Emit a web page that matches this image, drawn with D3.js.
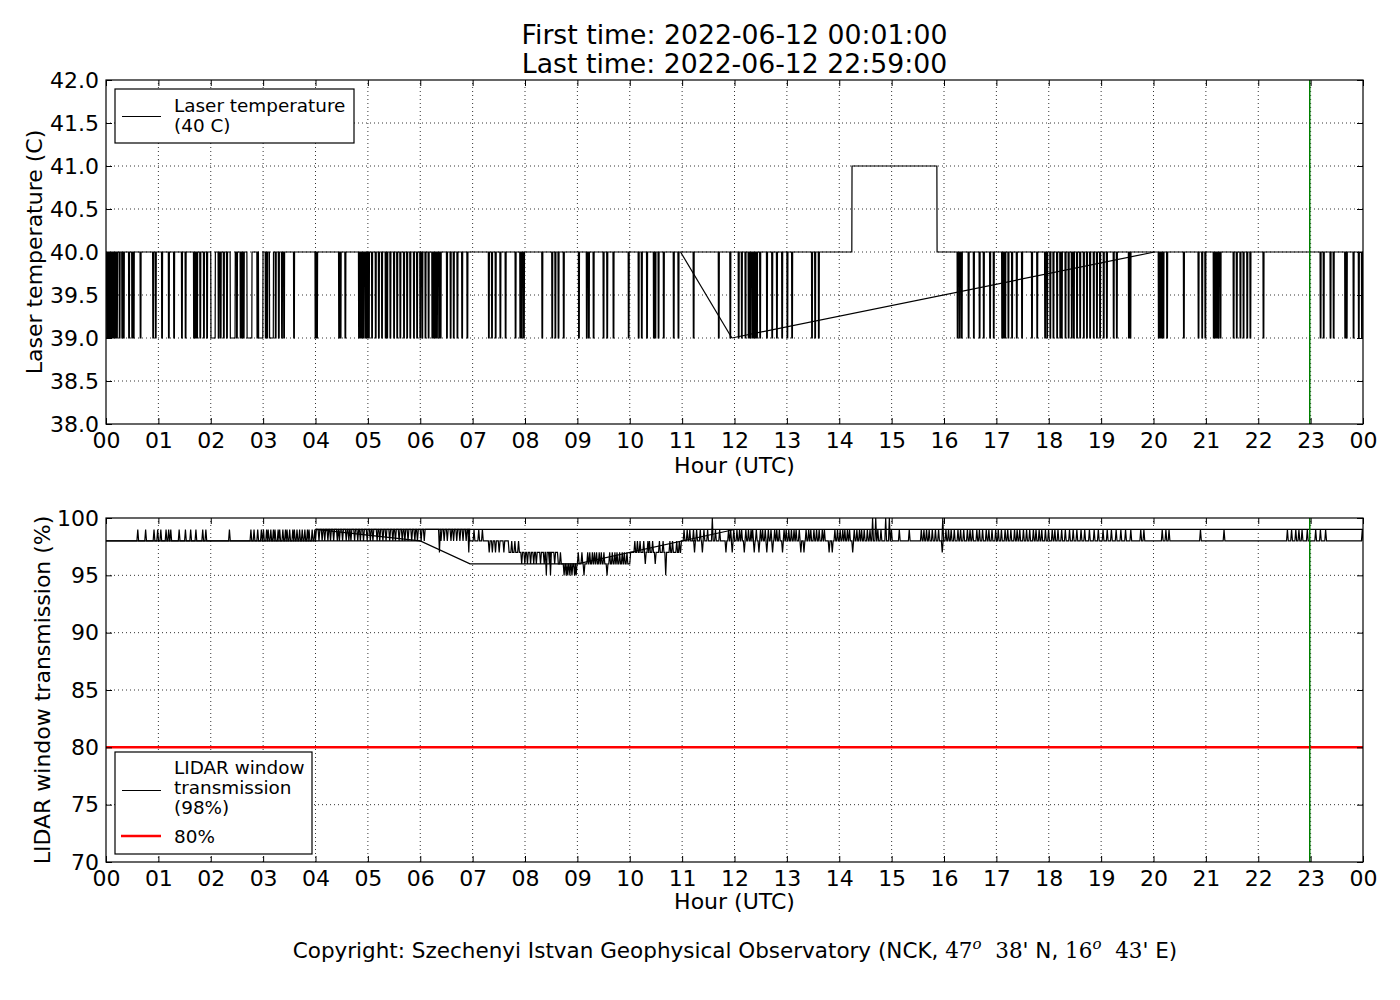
<!DOCTYPE html>
<html><head><meta charset="utf-8">
<script src="https://cdn.jsdelivr.net/npm/d3@7"></script>
<style>body{margin:0;background:#fff} svg{display:block} text{font-family:"DejaVu Sans",sans-serif;fill:#000}</style>
</head><body><svg id="c" width="1400" height="1000"></svg>
<script>
// ---------- data ----------
const hourTicks = [0,1,2,3,4,5,6,7,8,9,10,11,12,13,14,15,16,17,18,19,20,21,22,23,24];
const hourLabels = ["00","01","02","03","04","05","06","07","08","09","10","11","12","13","14","15","16","17","18","19","20","21","22","23","00"];
const tempTicks = [38.0,38.5,39.0,39.5,40.0,40.5,41.0,41.5,42.0];
const winTicks = [70,75,80,85,90,95,100];
const titleLines = ["First time: 2022-06-12 00:01:00","Last time: 2022-06-12 22:59:00"];
const lastTimeHour = 22 + 59/60;

// Laser temperature: base level 40 C, short drops to 39 C
const laserSteps = [[0,40]];
const laserDips = [0.01,0.045,0.08,0.11,0.14,0.17,0.20,0.25,0.30,0.33,0.43,0.49,0.52,0.65,0.89,0.94,1.06,1.19,1.29,1.44,1.51,1.67,1.70,1.73,1.79,1.86,1.92,2.14,2.18,2.24,2.30,2.49,2.56,2.59,2.62,2.88,3.04,3.07,3.23,3.29,3.35,3.39,3.58,3.99,4.02,4.44,4.47,4.56,4.82,4.85,4.88,4.91,4.95,4.98,5.01,5.07,5.14,5.20,5.26,5.33,5.36,5.42,5.49,5.55,5.61,5.68,5.74,5.80,5.87,5.93,5.99,6.03,6.09,6.15,6.22,6.25,6.28,6.31,6.35,6.38,6.50,6.57,6.63,6.70,6.79,6.89,7.30,7.36,7.43,
 7.52,7.62,7.81,7.90,7.93,7.97,8.32,8.51,8.57,8.63,8.73,9.02,9.17,9.21,9.30,9.49,9.56,9.68,9.97,10.16,10.22,10.32,10.45,10.48,10.54,10.64,10.83,10.92,11.21,11.69,11.91,12.07,12.13,12.20,12.26,12.29,12.33,12.36,12.39,12.42,12.48,12.61,12.71,12.80,12.90,13.00,13.09,13.47,13.53,13.60,
 16.25,16.29,16.33,16.46,16.56,16.67,16.75,16.87,16.94,17.10,17.13,17.16,17.22,17.29,17.38,17.48,17.67,17.77,17.92,17.96,18.02,18.08,18.15,18.21,18.24,18.31,18.37,18.43,18.47,18.53,18.59,18.66,18.72,18.78,18.85,18.91,18.97,19.04,19.10,19.23,19.29,19.52,19.55,20.09,20.12,20.15,20.18,20.25,20.57,20.85,20.92,20.98,21.14,21.17,21.20,21.23,21.27,21.52,21.58,21.65,21.71,21.78,21.84,22.09,23.18,23.24,23.37,23.43,23.65,23.68,23.81,23.91,23.97];
const laserLongDips = [[2.00,2.08],[2.37,2.46],[2.69,2.78],[2.91,2.99],[3.12,3.19]];
const laserHigh = [[14.24,15.86]];
const laserConnectors = [[[10.97,40],[11.95,39]],[[11.95,39],[20.02,40]]];

// LIDAR window transmission: base levels and short excursions
const winSteps = [[0,98],[4.0,99],[6.93,98],[7.68,97],[8.62,96],[10.0,97],[10.97,98]];
const winTo99 = [0.59,0.74,0.90,0.97,1.03,1.13,1.18,1.22,1.38,1.50,1.60,1.70,1.83,1.89,2.34,2.75,2.81,2.88,
 2.95,2.99,3.05,3.08,3.13,3.18,3.21,3.27,3.30,3.36,3.41,3.44,3.49,3.55,3.58,3.63,3.68,3.73,3.78,3.83,3.86,3.92,3.97,
 7.01,7.10,7.17,
 11.02,11.08,11.13,11.20,11.26,11.33,11.40,11.47,11.62,11.70,11.87,11.91,11.97,
 12.03,12.08,12.12,12.20,12.25,12.30,12.33,12.40,12.48,12.52,12.57,12.63,12.68,12.75,12.79,12.84,12.93,12.97,13.02,13.07,13.12,13.16,13.22,13.35,13.40,13.44,13.50,13.55,13.60,13.66,13.70,13.90,13.95,14.00,14.05,14.09,14.14,14.18,14.27,14.32,14.37,14.41,14.46,14.52,14.57,14.72,14.78,14.98,15.13,15.32,15.55,15.60,15.65,15.70,15.76,15.82,15.88,
 16.02,16.07,16.12,16.18,16.25,16.30,16.36,16.43,16.48,16.53,16.61,16.66,16.72,16.79,16.84,16.90,16.97,17.02,17.08,17.15,17.20,17.26,17.33,17.38,17.43,17.50,17.56,17.62,17.69,17.74,17.80,17.85,17.92,17.98,18.05,18.10,18.16,18.23,18.30,18.38,18.45,18.52,18.60,18.67,18.76,18.85,18.93,19.02,19.10,19.18,19.27,19.36,19.45,19.55,19.74,19.80,
 20.15,20.22,20.28,20.88,21.33,22.54,22.62,22.70,22.76,22.82,22.92,23.08,23.17,23.27,23.97];
const winTo98 = [4.05,4.11,4.16,4.22,4.27,4.33,4.40,4.44,4.50,4.57,4.62,4.66,4.73,4.79,4.84,4.90,4.97,5.03,5.08,5.16,5.21,5.27,5.33,5.40,5.46,5.51,5.58,5.64,5.69,5.75,5.82,5.88,5.93,6.00,6.06,6.38,6.44,6.50,6.57,6.62,6.68,6.74,6.80,6.86,
 7.73,7.79,7.86,10.08,10.13,10.18,10.25,10.33,10.36,10.42,10.55,10.62,10.75,10.80,10.88,10.93];
const winTo97 = [6.35,6.91,7.30,7.36,7.42,7.49,7.58,11.22,11.37,11.82,11.94,12.17,12.36,12.45,12.60,12.71,12.90,13.25,13.31,13.79,13.85,14.24,15.95,
 8.66,9.00,9.07,9.18,9.22,9.27,9.31,9.35,9.40,9.44,9.49,9.60,9.65,9.70,9.74,9.79,9.84,9.88,9.93];
const winTo96 = [7.92,7.98,8.03,8.09,8.15,8.20,8.28,8.35,8.45,8.55,10.28,10.47];
const winTo95 = [8.39,8.47,8.73,8.77,8.80,8.84,8.88,8.93,8.96,9.11,9.55,10.67];
const winTo100 = [11.56,14.62,14.68,14.87,14.94,15.96];
const winConnectors = [[[0,98],[6.0,98],[6.95,96],[9.0,96],[12.0,99]],[[4.0,99],[24,99]],[[4.0,99],[6.0,98]]];
const winThreshold = 80;

// ---------- layout ----------
const svg = d3.select("#c");
const L = 106, R = 1363;
const x = d3.scaleLinear().domain([0,24]).range([L,R]);
const yTop = d3.scaleLinear().domain([38,42]).range([424,80]);
const yBot = d3.scaleLinear().domain([70,100]).range([862,518]);
const SAMPLE = 1/60; // one-minute sampling

function buildSeries(steps, pulses, ramp) {
  const baseAt = t => { let b = steps[0][1]; for (const s of steps) if (s[0] <= t) b = s[1]; return b; };
  const ev = [];
  steps.slice(1).forEach(s => ev.push({t:s[0], kind:"step"}));
  pulses.forEach(p => ev.push({t:p.t, kind:"pulse", v:p.v, w:p.w}));
  ev.sort((a,b)=>a.t-b.t);
  let cur = steps[0][1];
  const pts = [[0,cur]];
  for (const e of ev) {
    if (e.kind === "step") { const nb = baseAt(e.t); pts.push([e.t,cur],[e.t+ramp,nb]); cur = nb; }
    else { pts.push([e.t,cur],[e.t+ramp,e.v],[e.t+ramp+e.w,e.v],[e.t+2*ramp+e.w,cur]); }
  }
  pts.push([24,cur]);
  return pts;
}
const laserPulses = [].concat(
  laserDips.map(t=>({t, v:39, w:0.012})),
  laserLongDips.map(d=>({t:d[0], v:39, w:d[1]-d[0]})),
  laserHigh.map(d=>({t:d[0], v:41, w:d[1]-d[0]}))
);
const winPulses = [].concat(
  winTo99.map(t=>({t,v:99,w:0})), winTo98.map(t=>({t,v:98,w:0})), winTo97.map(t=>({t,v:97,w:0})),
  winTo96.map(t=>({t,v:96,w:0})), winTo95.map(t=>({t,v:95,w:0})), winTo100.map(t=>({t,v:100,w:0}))
);

function panel(y, ticks, fmt, series, connectors, id) {
  const [y0,y1] = y.range();
  const g = svg.append("g");
  g.append("clipPath").attr("id",id).append("rect").attr("x",L).attr("y",y1).attr("width",R-L).attr("height",y0-y1);
  const grid = g.append("g").attr("stroke","#000").attr("stroke-width",0.8).attr("stroke-dasharray","1,3");
  hourTicks.slice(1,-1).forEach(h=>grid.append("line").attr("x1",x(h)).attr("x2",x(h)).attr("y1",y0).attr("y2",y1));
  ticks.slice(1,-1).forEach(v=>grid.append("line").attr("x1",L).attr("x2",R).attr("y1",y(v)).attr("y2",y(v)));
  const line = d3.line().x(d=>x(d[0])).y(d=>y(d[1]));
  const data = g.append("g").attr("clip-path",`url(#${id})`);
  data.append("path").attr("d",line(series)).attr("fill","none").attr("stroke","#000").attr("stroke-width",1.2).attr("stroke-linejoin","miter");
  connectors.forEach(c=>data.append("path").attr("d",line(c)).attr("fill","none").attr("stroke","#000").attr("stroke-width",1.2));
  g.append("g").attr("transform",`translate(0,${y0})`)
    .call(d3.axisBottom(x).tickValues(hourTicks).tickFormat((d,i)=>hourLabels[i]).tickSizeInner(-6).tickSizeOuter(0).tickPadding(8));
  g.append("g").attr("transform",`translate(0,${y1})`)
    .call(d3.axisTop(x).tickValues(hourTicks).tickFormat("").tickSizeInner(-6).tickSizeOuter(0));
  g.append("g").attr("transform",`translate(${L},0)`)
    .call(d3.axisLeft(y).tickValues(ticks).tickFormat(fmt).tickSizeInner(-6).tickSizeOuter(0).tickPadding(7));
  g.append("g").attr("transform",`translate(${R},0)`)
    .call(d3.axisRight(y).tickValues(ticks).tickFormat("").tickSizeInner(-6).tickSizeOuter(0));
  g.selectAll(".domain").remove();
  g.selectAll(".tick line").attr("stroke","#000");
  g.selectAll(".tick text").attr("font-size",22).attr("font-family","DejaVu Sans");
  return {g, data};
}

const panelA = panel(yTop, tempTicks, d3.format(".1f"), buildSeries(laserSteps, laserPulses, 0.004), laserConnectors, "clipA");
const panelB = panel(yBot, winTicks, d3.format("d"), buildSeries(winSteps, winPulses, SAMPLE), winConnectors, "clipB");

panelB.data.insert("line",":first-child").attr("x1",L).attr("x2",R).attr("y1",yBot(winThreshold)).attr("y2",yBot(winThreshold))
  .attr("stroke","#ff0000").attr("stroke-width",2.5);
[[panelA,yTop],[panelB,yBot]].forEach(([p,y])=>{
  p.data.append("line").attr("x1",x(lastTimeHour)).attr("x2",x(lastTimeHour)).attr("y1",y.range()[0]).attr("y2",y.range()[1])
    .attr("stroke","#008000").attr("stroke-width",1.5);
});
[yTop,yBot].forEach(y=>{
  svg.append("rect").attr("x",L).attr("y",y.range()[1]).attr("width",R-L).attr("height",y.range()[0]-y.range()[1])
    .attr("fill","none").attr("stroke","#000").attr("stroke-width",1.2);
});

svg.append("text").attr("x",734.5).attr("y",44).attr("text-anchor","middle").attr("font-size",26.7).text(titleLines[0]);
svg.append("text").attr("x",734.5).attr("y",73).attr("text-anchor","middle").attr("font-size",26.7).text(titleLines[1]);
svg.append("text").attr("x",734.5).attr("y",473).attr("text-anchor","middle").attr("font-size",22).text("Hour (UTC)");
svg.append("text").attr("x",734.5).attr("y",909).attr("text-anchor","middle").attr("font-size",22).text("Hour (UTC)");
svg.append("text").attr("transform","translate(42,252) rotate(-90)").attr("text-anchor","middle").attr("font-size",22).text("Laser temperature (C)");
svg.append("text").attr("transform","translate(50,690) rotate(-90)").attr("text-anchor","middle").attr("font-size",22).text("LIDAR window transmission (%)");

const lg1 = svg.append("g");
lg1.append("rect").attr("x",115).attr("y",89).attr("width",239).attr("height",54).attr("fill","#fff").attr("stroke","#000").attr("stroke-width",1.2);
lg1.append("line").attr("x1",122).attr("x2",161).attr("y1",116.5).attr("y2",116.5).attr("stroke","#000").attr("stroke-width",1.2);
lg1.append("text").attr("x",174).attr("y",112).attr("font-size",18.4).text("Laser temperature");
lg1.append("text").attr("x",174).attr("y",132).attr("font-size",18.4).text("(40 C)");

const lg2 = svg.append("g");
lg2.append("rect").attr("x",115).attr("y",752).attr("width",197).attr("height",102).attr("fill","#fff").attr("stroke","#000").attr("stroke-width",1.2);
lg2.append("line").attr("x1",122).attr("x2",161).attr("y1",790.5).attr("y2",790.5).attr("stroke","#000").attr("stroke-width",1.2);
lg2.append("text").attr("x",174).attr("y",774).attr("font-size",18.4).text("LIDAR window");
lg2.append("text").attr("x",174).attr("y",794).attr("font-size",18.4).text("transmission");
lg2.append("text").attr("x",174).attr("y",814).attr("font-size",18.4).text("(98%)");
lg2.append("line").attr("x1",121).attr("x2",161).attr("y1",836).attr("y2",836).attr("stroke","#ff0000").attr("stroke-width",2.5);
lg2.append("text").attr("x",174).attr("y",843).attr("font-size",18.4).text("80%");

const cp = svg.append("text").attr("x",735).attr("y",958).attr("text-anchor","middle").attr("font-size",21.5);
cp.append("tspan").text("Copyright: Szechenyi Istvan Geophysical Observatory (NCK, ");
cp.append("tspan").attr("font-family","DejaVu Serif").text("47");
cp.append("tspan").attr("font-family","DejaVu Serif").attr("font-style","italic").attr("font-size",15).attr("dy",-9).text("o");
cp.append("tspan").attr("font-family","DejaVu Serif").attr("dy",9).text("\u00a0\u00a038");
cp.append("tspan").text("' N, ");
cp.append("tspan").attr("font-family","DejaVu Serif").text("16");
cp.append("tspan").attr("font-family","DejaVu Serif").attr("font-style","italic").attr("font-size",15).attr("dy",-9).text("o");
cp.append("tspan").attr("font-family","DejaVu Serif").attr("dy",9).text("\u00a0\u00a043");
cp.append("tspan").text("' E)");
</script></body></html>
